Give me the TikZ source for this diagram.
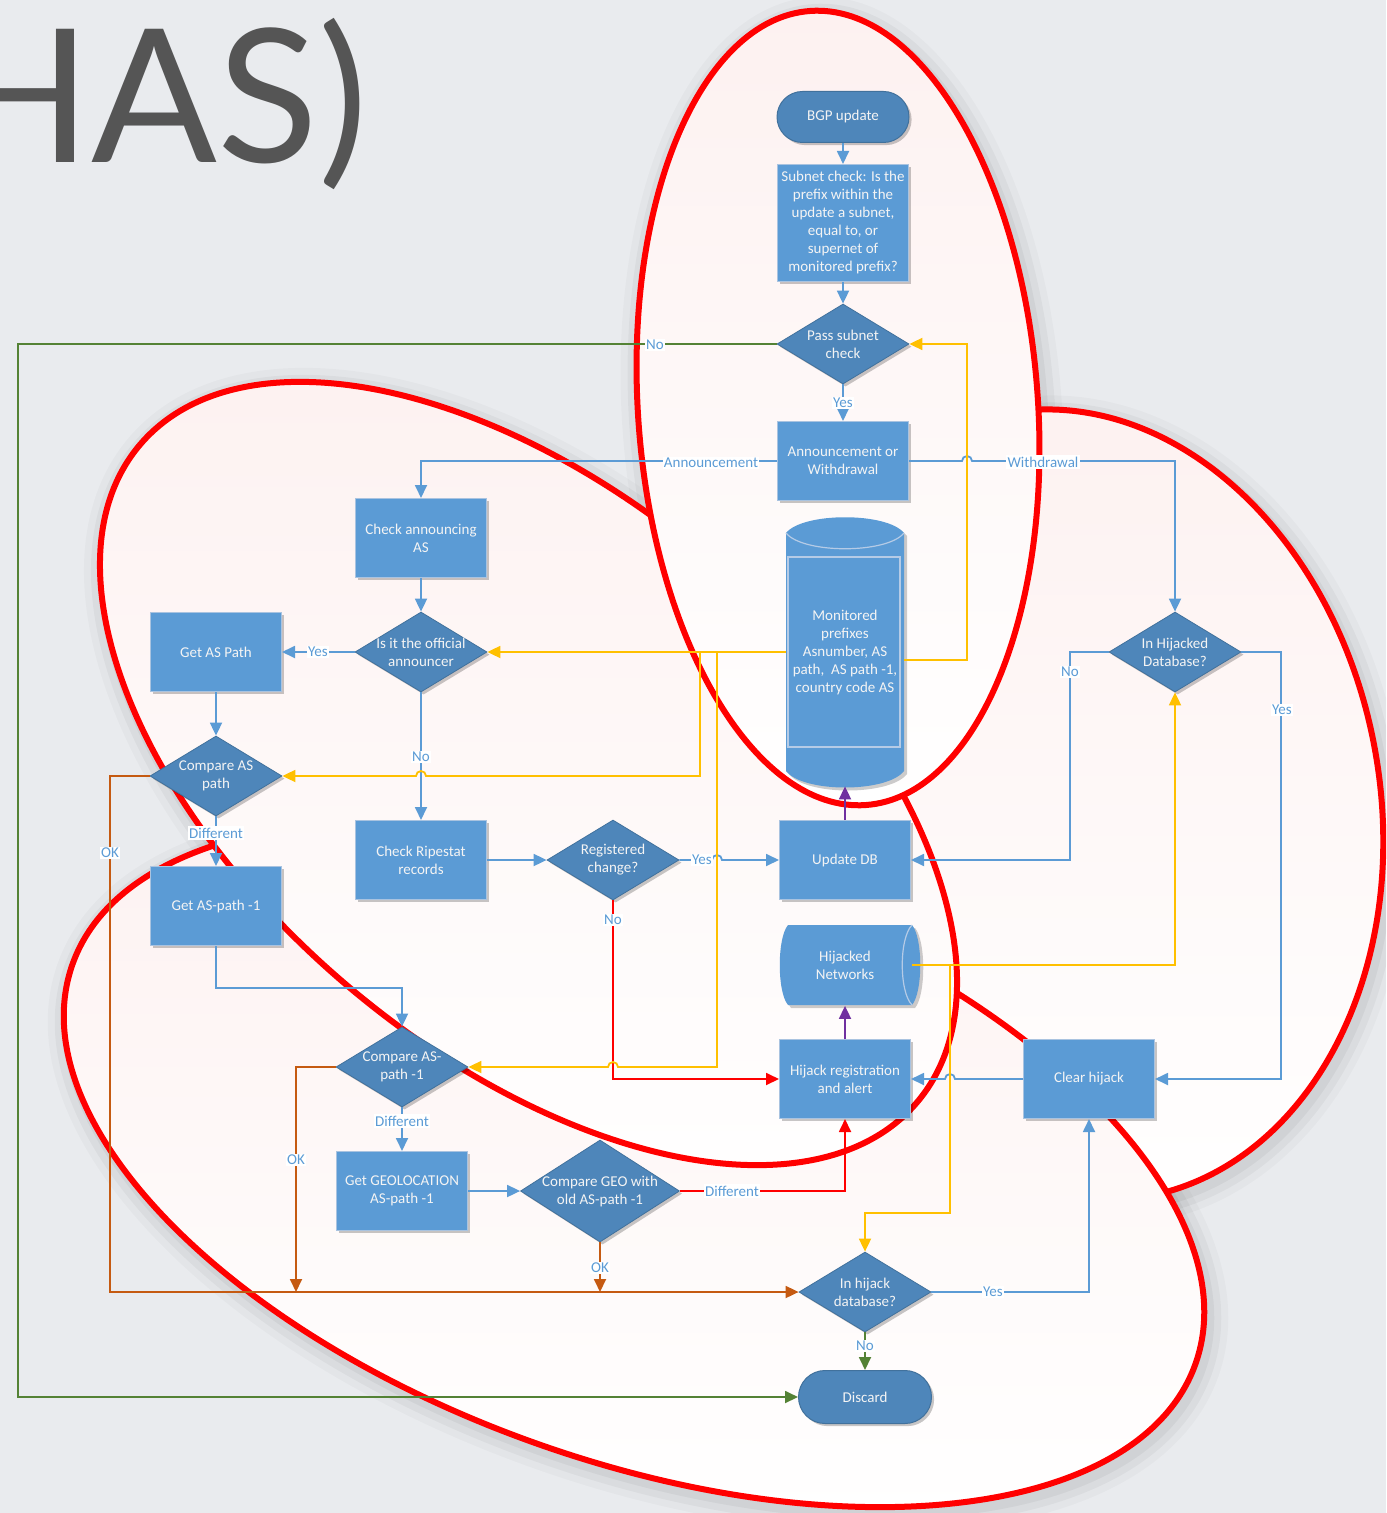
\documentclass[tikz,border=0pt]{standalone}
\usepackage{fontspec}
\setmainfont{Carlito}
\newfontfamily\titlefont{Lato}
\usetikzlibrary{arrows.meta,shapes.geometric,shadows}

\definecolor{bgcol}{HTML}{E9EBEE}
\definecolor{titlegray}{HTML}{555555}
\definecolor{boxblue}{HTML}{5B9BD5}
\definecolor{boxedge}{HTML}{A9C3E0}
\definecolor{diablue}{HTML}{4E86BA}
\definecolor{diaedge}{HTML}{41719C}
\definecolor{textw}{HTML}{F4F4F4}
\definecolor{labblue}{HTML}{5B9BD5}
\definecolor{linkblue}{HTML}{5B9BD5}
\definecolor{linkyel}{HTML}{FFC000}
\definecolor{linkgrn}{HTML}{548235}
\definecolor{linkbrn}{HTML}{C55A11}
\definecolor{linkred}{HTML}{FF0000}
\definecolor{linkpur}{HTML}{7030A0}
\definecolor{ringred}{HTML}{FF0000}
\definecolor{ellpink}{HTML}{FDF1F0}
\definecolor{lidline}{HTML}{B5CBE6}

\tikzset{
  nodefont/.style={font=\fontsize{7.5}{9}\selectfont},
  softshadow/.style={drop shadow={shadow xshift=1.3pt, shadow yshift=-1.3pt, opacity=0.22, fill=black}},
  box/.style={rectangle, fill=boxblue, draw=boxedge, line width=0.5pt, text=textw,
    align=center, nodefont, inner sep=1pt, minimum width=65.5pt, minimum height=39.5pt, softshadow},
  dec/.style={diamond, fill=diablue, draw=diaedge, line width=0.4pt, text=textw,
    align=center, nodefont, inner xsep=-12pt, inner ysep=-8pt,
    minimum width=66pt, minimum height=40pt, softshadow},
  term/.style={rectangle, rounded corners=12.75pt, fill=diablue, draw=diaedge, line width=0.5pt,
    text=textw, nodefont, minimum width=66pt, minimum height=25.5pt, softshadow},
  store/.style={rectangle, inner sep=0pt, text=textw, align=center, nodefont},
  lab/.style={fill=white, text=labblue, nodefont, inner sep=0.7pt},
  link/.style={line width=0.9pt, -{Triangle[length=6.5pt,width=6pt]}},
  bl/.style={draw=linkblue, link},
  yl/.style={draw=linkyel, link},
  gr/.style={draw=linkgrn, link},
  br/.style={draw=linkbrn, link},
  rd/.style={draw=linkred, link},
  pu/.style={draw=linkpur, link},
  hop/.style={radius=2.5pt}
}

\begin{document}
\begin{tikzpicture}[x=0.5pt,y=-0.5pt]
\useasboundingbox (0,0) rectangle (1386,1513);
\clip (0,0) rectangle (1386,1513);
\fill[bgcol] (0,0) rectangle (1386,1513);

% slide title fragment
\node[font=\titlefont\fontsize{93}{93}\selectfont, text=titlegray, anchor=base east, inner sep=0pt]
  (title) at (368,163) {HAS)};

% soft shadows of the four grouping ellipses
\foreach \cx/\cy/\rx/\ry/\ang in {1075/805/152.5/199/10, 634/1164/298/148/-19.6, 528.5/773.5/254.5/139.5/-40.2, 838/408/100/199/4} {
  \begin{scope}[shift={(\cx+4,\cy+6)}, rotate=\ang]
    \foreach \w/\o in {20/0.025, 13/0.035, 6/0.045}
      \draw[black, opacity=\o, line width=\w pt] (0,0) ellipse [x radius=\rx pt, y radius=\ry pt];
  \end{scope}
}
% the grouping ellipses, back to front
\foreach \cx/\cy/\rx/\ry/\ang in {1075/805/152.5/199/10, 634/1164/298/148/-19.6, 528.5/773.5/254.5/139.5/-40.2, 838/408/100/199/4} {
  \begin{scope}[shift={(\cx,\cy)}, rotate=\ang]
    \draw[ringred, line width=3pt, top color=ellpink, bottom color=white]
      (0,0) ellipse [x radius=\rx pt, y radius=\ry pt];
  \end{scope}
}

% database drum: monitored prefixes
\fill[black, opacity=0.2] (789,536) .. controls (806,515) and (890,515) .. (907,536) -- (907,774)
  .. controls (890,796) and (806,796) .. (789,774) -- cycle;
\fill[boxblue] (786,533) .. controls (803,512) and (887,512) .. (904,533) -- (904,771)
  .. controls (887,793) and (803,793) .. (786,771) -- cycle;
\draw[lidline, line width=0.6pt] (786,533) .. controls (803,554) and (887,554) .. (904,533);
\draw[lidline, line width=0.6pt] (788,557) rectangle (900,747);
\node[store, minimum width=59pt, minimum height=134pt] (mon) at (845,652)
  {Monitored\\prefixes\\Asnumber, AS\\path,\ \ AS path -1,\\country code AS};

% direct access storage: hijacked networks
\fill[black, opacity=0.2] (791,928) -- (915,928) .. controls (926,941) and (926,995) .. (915,1008)
  -- (791,1008) .. controls (780,995) and (780,941) .. (791,928) -- cycle;
\fill[boxblue] (788,925) -- (912,925) .. controls (923,938) and (923,992) .. (912,1005)
  -- (788,1005) .. controls (777,992) and (777,938) .. (788,925) -- cycle;
\draw[lidline, line width=0.6pt] (912,925) .. controls (899,938) and (899,992) .. (912,1005);
\node[store, minimum width=67pt, minimum height=40.5pt] (hij) at (845,965) {Hijacked\\Networks};

% process steps
\node[term] (bgp) at (843,117) {BGP update};
\node[box, minimum height=58.5pt] (sub) at (843,223)
  {Subnet check: Is the\\prefix within the\\update a subnet,\\equal to, or\\supernet of\\monitored prefix?};
\node[dec] (pass) at (843,344) {Pass subnet\\check};
\node[box] (ann) at (843,461) {Announcement or\\Withdrawal};
\node[box] (chk) at (421,538) {Check announcing\\AS};
\node[dec] (off) at (421,652) {Is it the official\\announcer};
\node[box] (gap) at (216,652) {Get AS Path};
\node[dec] (cmp) at (216,776) {Compare AS\\path};
\node[box] (rip) at (421,860) {Check Ripestat\\records};
\node[dec] (reg) at (613,860) {Registered\\change?};
\node[box] (upd) at (845,860) {Update DB};
\node[box] (gm1) at (216,906) {Get AS-path -1};
\node[dec] (cm1) at (402,1067) {Compare AS-\\path -1};
\node[box] (hrg) at (845,1079) {Hijack registration\\and alert};
\node[box] (clr) at (1089,1079) {Clear hijack};
\node[box] (geo) at (402,1191) {Get GEOLOCATION\\AS-path -1};
\node[dec, minimum width=79.5pt, minimum height=51pt] (cgeo) at (600,1191) {Compare GEO with\\old AS-path -1};
\node[dec] (ihb) at (865,1292) {In hijack\\database?};
\node[term, minimum width=66.5pt, minimum height=26.5pt, rounded corners=13.25pt] (dis) at (865,1397) {Discard};
\node[dec] (ihd) at (1175,652) {In Hijacked\\Database?};

% free ends of branching connectors
\coordinate (ya) at (700,652);
\coordinate (yb) at (717,652);
\coordinate (yc) at (950,965);
\coordinate (okA) at (296,1292);
\coordinate (okB) at (600,1292);

% blue flow
\draw[bl] (bgp.south) -- (sub.north);
\draw[bl] (sub.south) -- (pass.north);
\draw[bl] (pass.south) -- (ann.north);
\draw[bl] (ann.west) -| (chk.north);
\draw[bl] (ann.east) -- (962,461) arc[start angle=180, end angle=0, hop] -- (1175,461) -- (ihd.north);
\draw[bl] (chk.south) -- (off.north);
\draw[bl] (off.west) -- (gap.east);
\draw[bl] (off.south) -- (rip.north);
\draw[bl] (gap.south) -- (cmp.north);
\draw[bl] (cmp.south) -- (gm1.north);
\draw[bl] (gm1.south) -- (216,988) -| (cm1.north);
\draw[bl] (cm1.south) -- (geo.north);
\draw[bl] (geo.east) -- (cgeo.west);
\draw[bl] (rip.east) -- (reg.west);
\draw[bl] (reg.east) -- (712,860) arc[start angle=180, end angle=0, hop] -- (upd.west);
\draw[bl] (ihd.west) -- (1070,652) |- (upd.east);
\draw[bl] (ihd.east) -- (1281,652) |- (clr.east);
\draw[bl] (clr.west) -- (955,1079) arc[start angle=0, end angle=180, hop] -- (hrg.east);
\draw[bl] (ihb.east) -| (clr.south);

% green: discard paths
\draw[gr] (pass.west) -- (18,344) -- (18,1397) -- (dis.west);
\draw[gr] (ihb.south) -- (dis.north);

% brown: OK paths
\draw[br] (cmp.west) -- (110,776) -- (110,1292) -- (ihb.west);
\draw[br] (cm1.west) -| (okA);
\draw[br] (cgeo.south) -- (okB);

% red: hijack paths
\draw[rd] (cgeo.east) -| (hrg.south);
\draw[rd] (reg.south) |- (hrg.west);

% purple: database writes
\draw[pu] (upd.north) -- (mon.south);
\draw[pu] (hrg.north) -- (hij.south);

% yellow: database lookups
\draw[yl] (mon.west) -- (off.east);
\draw[yl] (ya) -- (700,776) -- (426,776) arc[start angle=0, end angle=180, hop] -- (cmp.east);
\draw[yl] (yb) -- (717,1067) -- (618,1067) arc[start angle=0, end angle=180, hop] -- (cm1.east);
\draw[yl] ([yshift=-4pt]mon.east) -- (967,660) -- (967,344) -- (pass.east);
\draw[yl] (hij.east) -- (1175,965) -- (ihd.south);
\draw[yl] (yc) -- (950,1213) -| (ihb.north);

% connector labels
\node[lab] (l1) at (843,403) {Yes};
\node[lab] (l2) at (655,345) {No};
\node[lab] (l3) at (711,463) {Announcement};
\node[lab] (l4) at (1043,462) {Withdrawal};
\node[lab] (l5) at (318,652) {Yes};
\node[lab] (l6) at (421,757) {No};
\node[lab] (l7) at (216,833) {Different};
\node[lab] (l8) at (110,853) {OK};
\node[lab] (l9) at (296,1160) {OK};
\node[lab] (l10) at (402,1121) {Different};
\node[lab] (l11) at (732,1191) {Different};
\node[lab] (l12) at (600,1268) {OK};
\node[lab] (l13) at (702,860) {Yes};
\node[lab] (l14) at (613,920) {No};
\node[lab] (l15) at (1070,672) {No};
\node[lab] (l16) at (1282,710) {Yes};
\node[lab] (l17) at (993,1292) {Yes};
\node[lab] (l18) at (865,1346) {No};
\end{tikzpicture}
\end{document}
